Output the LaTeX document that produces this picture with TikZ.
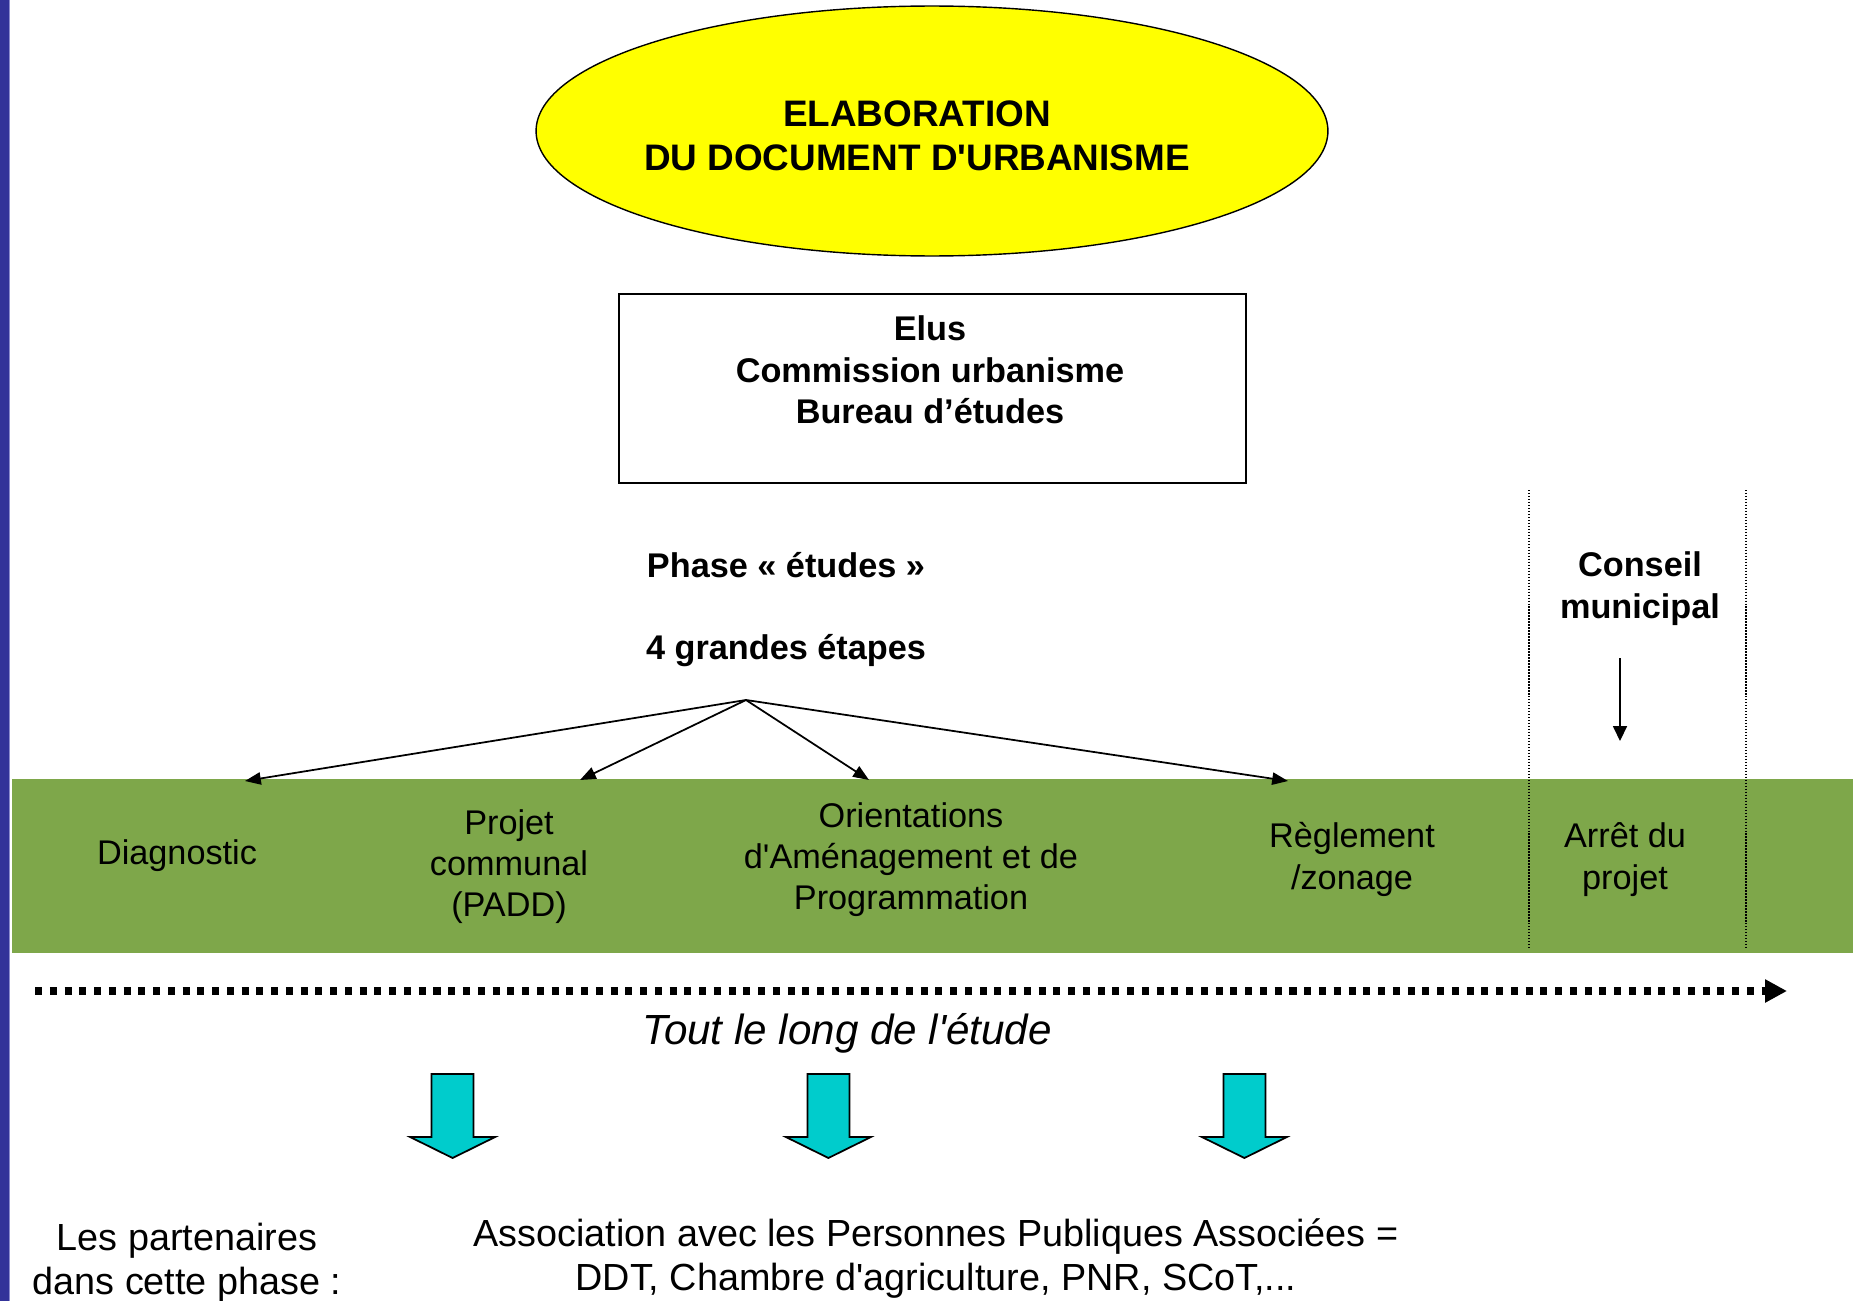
\documentclass[tikz,border=0pt]{standalone}
\usepackage{fontspec}
\newfontfamily\arial{Liberation Sans}
\usetikzlibrary{shapes.geometric,arrows.meta}
\definecolor{bandgreen}{RGB}{126,167,74}
\definecolor{barblue}{RGB}{51,51,153}
\definecolor{baredge}{RGB}{140,140,205}
\definecolor{arrcyan}{RGB}{0,204,204}
\definecolor{titleyellow}{RGB}{255,255,0}
\begin{document}
\begin{tikzpicture}[x=0.02cm,y=-0.02cm,
  every node/.style={inner sep=0pt, outer sep=0pt},
  boldtxt/.style={font=\arial\bfseries\fontsize{19.5}{23.5}\selectfont, align=center},
  bandtxt/.style={font=\arial\fontsize{19.5}{23.5}\selectfont, align=center},
  bottomtxt/.style={font=\arial\fontsize{21.5}{25}\selectfont, align=center},
  conn/.style={line width=1pt, -{Triangle[length=9pt,width=7pt]}},
  thinconn/.style={line width=0.8pt, -{Triangle[length=8.5pt,width=8pt]}},
  sepline/.style={line width=0.8pt, dash pattern=on 0.8pt off 0.9pt},
  timeline/.style={line width=4pt, dash pattern=on 4pt off 4.4pt, line cap=butt,
    -{Triangle[length=12.5pt,width=12.5pt]}},
  cyanarrow/.style={draw=black, line width=1pt, fill=arrcyan, line join=miter}
]
\path[use as bounding box] (0,0) rectangle (1853,1301);
\fill[white] (0,0) rectangle (1853,1301);
% left bar
\fill[barblue] (0,0) rectangle (9,1301);
\draw[baredge, line width=0.6pt] (9.8,0) -- (9.8,1301);
% green band
\fill[bandgreen] (12,779) rectangle (1853,953);

% title ellipse
\node[ellipse, draw, fill=titleyellow, line width=0.8pt, minimum width=15.84cm, minimum height=5cm] (ell) at (932,131) {};
\node[font=\arial\bfseries\fontsize{21}{25}\selectfont, align=center] (title) at (917,136) {ELABORATION\\DU DOCUMENT D'URBANISME};

% actors box
\node[draw, line width=0.8pt, minimum width=12.54cm, minimum height=3.78cm] (box) at (932.5,388.5) {};
\node[boldtxt] (boxtext) at (930,370) {Elus\\Commission urbanisme\\Bureau d’études};

% phase
\node[boldtxt] (phase) at (786,565) {Phase « études »};
\node[boldtxt] (etapes) at (786,651) {4 grandes étapes};

\coordinate (apex) at (746,700);
\coordinate (t1) at (245,781);
\coordinate (t2) at (580,780);
\coordinate (t3) at (869,780);
\coordinate (t4) at (1288,781);
\draw[conn] (apex) -- (t1);
\draw[conn] (apex) -- (t2);
\draw[conn] (apex) -- (t3);
\draw[conn] (apex) -- (t4);

% band texts
\node[bandtxt] (diag) at (177,855.5) {Diagnostic};
\node[bandtxt] (padd) at (509,866.5) {Projet\\communal\\(PADD)};
\node[bandtxt] (oap) at (911,859.5) {Orientations\\d'Aménagement et de\\Programmation};
\node[bandtxt] (regl) at (1352,859.5) {Règlement\\/zonage};
\node[bandtxt] (arret) at (1625,859.5) {Arrêt du\\projet};

% conseil municipal
\node[boldtxt] (conseil) at (1640,588.5) {Conseil\\municipal};
\coordinate (cs) at (1620,658);
\coordinate (ce) at (1620,741);
\draw[thinconn] (cs) -- (ce);

% dotted separators
\coordinate (s1a) at (1529,490);
\coordinate (s1b) at (1529,949);
\coordinate (s2a) at (1746,490);
\coordinate (s2b) at (1746,949);
\draw[sepline] (s1a) -- (s1b);
\draw[sepline] (s2a) -- (s2b);

% timeline
\coordinate (ls) at (35,991);
\coordinate (le) at (1787,991);
\draw[timeline] (ls) -- (le);
\node[font=\arial\itshape\fontsize{24}{28}\selectfont] (tout) at (847,1033) {Tout le long de l'étude};

% cyan arrows
\foreach \cx in {452.6,828.4,1244.4}{
  \draw[cyanarrow] (\cx-21,1074) -- (\cx+21,1074) -- (\cx+21,1137) -- (\cx+42.5,1137)
    -- (\cx,1158) -- (\cx-42.5,1137) -- (\cx-21,1137) -- cycle;
}

% bottom texts
\node[bottomtxt] (part) at (187,1263) {Les partenaires\\dans cette phase :};
\node[bottomtxt] (assoc) at (936,1258.5) {Association avec les Personnes Publiques Associées =\\DDT, Chambre d'agriculture, PNR, SCoT,...};
\end{tikzpicture}
\end{document}
